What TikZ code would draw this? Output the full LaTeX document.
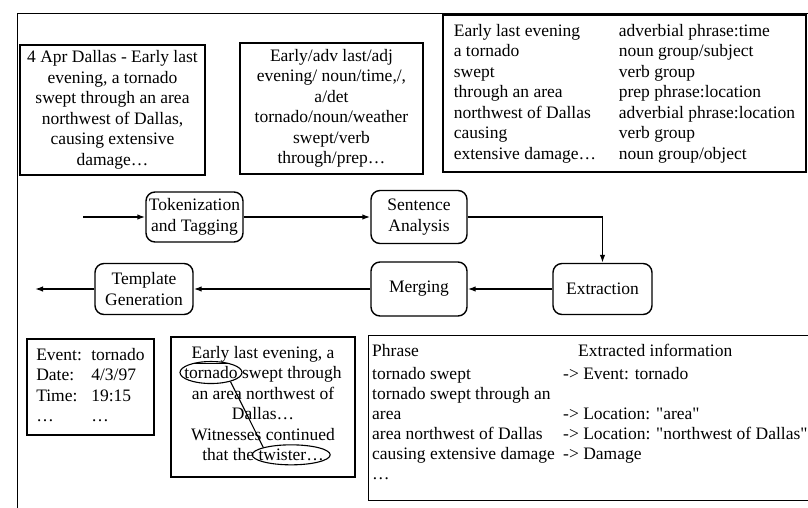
\documentclass[tikz,border=0pt]{standalone}
\usepackage{fontspec}
\setmainfont{Liberation Serif}
\usetikzlibrary{arrows.meta,shapes.geometric}
\begin{document}
\begin{tikzpicture}[x=1pt,y=-1pt,
  txt/.style={font=\fontsize{17.5}{20.5}\selectfont, inner sep=0pt},
  infobox/.style={draw, line width=1.1pt, inner sep=0pt},
  proc/.style={draw, line width=1.4pt, rounded corners=9pt, align=center,
    font=\fontsize{17.5}{20.5}\selectfont, inner sep=0pt},
  flow/.style={line width=1.4pt, -{Latex[length=8pt,width=5.5pt]}},
  ring/.style={draw, ellipse, line width=1.1pt, inner sep=0pt}]
\useasboundingbox (0,0) rectangle (808,507);
\clip (0,0) rectangle (808,507);
\fill[white] (0,0) rectangle (808,507);
% outer frame (right and bottom cut off)
\node[draw, line width=1.1pt, anchor=north west, minimum width=830, minimum height=530, inner sep=0pt] (frame) at (17,13) {};

% top information boxes
\node[infobox, txt, align=center, minimum width=185, minimum height=130] (src) at (112.5,110)
  {4 Apr Dallas - Early last\\ evening, a tornado\\ swept through an area\\ northwest of Dallas,\\ causing extensive\\ damage\ldots};
\node[infobox, txt, align=center, minimum width=183, minimum height=131] (tags) at (331.5,108.5)
  {Early/adv last/adj\\ evening/ noun/time,/,\\ a/det\\ tornado/noun/weather\\ swept/verb\\ through/prep\ldots};
\node[infobox, txt, minimum width=363, minimum height=157] (synt) at (624.5,93.5)
  {\begin{tabular}{@{}p{165pt}@{}l@{}}
   Early last evening & adverbial phrase:time\\
   a tornado & noun group/subject\\
   swept & verb group\\
   through an area & prep phrase:location\\
   northwest of Dallas & adverbial phrase:location\\
   causing & verb group\\
   extensive damage\ldots & noun group/object
   \end{tabular}};

% process chain
\node[proc, minimum width=97, minimum height=50] (tok) at (194.5,217) {Tokenization\\and Tagging};
\node[proc, minimum width=96, minimum height=53] (sent) at (419,217) {Sentence\\Analysis};
\node[proc, minimum width=99, minimum height=51] (extr) at (602.5,289) {Extraction};
\node[proc, minimum width=96, minimum height=54] (merg) at (419,289) {Merging};
\node[proc, minimum width=98, minimum height=51] (tmpl) at (144,289) {Template\\Generation};
\coordinate (in) at (83,217);
\coordinate (out) at (35,289);
\draw[flow] (in) -- (tok);
\draw[flow] (tok) -- (sent);
\draw[flow] (sent.east) -| (extr.north);
\draw[flow] (extr) -- (merg);
\draw[flow] (merg) -- (tmpl);
\draw[flow] (tmpl) -- (out);

% bottom boxes
\node[infobox, txt, minimum width=127, minimum height=96] (evt) at (90.5,387)
  {\begin{tabular}{@{}p{55pt}@{}l@{}}
   Event: & tornado\\
   Date: & 4/3/97\\
   Time: & 19:15\\
   \ldots & \ldots
   \end{tabular}};

\node[infobox, minimum width=184, minimum height=140] (coref) at (263,407) {};
\node[txt, anchor=base] (m1) at (263,358) {\underline{Early} last evening, a};
\node[txt, anchor=base] (m2) at (263,378.5) {\phantom{tornado} swept through};
\node[txt, anchor=base west] (tor) at (m2.base west) {tornado};
\node[txt, anchor=base] (m3) at (263,399) {an area northwest of};
\node[txt, anchor=base] (m4) at (263,419.5) {Dallas\ldots};
\node[txt, anchor=base] (m5) at (263,440) {Witnesses continued};
\node[txt, anchor=base] (m6) at (263,460.5) {that the \phantom{twister\ldots}};
\node[txt, anchor=base east] (tw) at (m6.base east) {twister\ldots};
\node[ring, minimum width=62, minimum height=22] (torE) at (tor.center) {};
\node[ring, minimum width=78, minimum height=20] (twE) at (tw.center) {};
\draw[line width=1.1pt] (torE.-25) -- (twE.165);

\node[infobox, anchor=north west, minimum width=470, minimum height=165] (phr) at (368,335) {};
\node[inner sep=0pt, anchor=north west, font=\fontsize{17.5}{20}\selectfont] (phrt) at (372,342)
  {\begin{tabular}{@{}p{191pt}@{}l@{}}
   Phrase & \hspace{15pt}Extracted information\\[3pt]
   tornado swept & -> Event: tornado\\
   tornado swept through an & \\
   area & -> Location: \textquotedbl area\textquotedbl\\
   area northwest of Dallas & -> Location: \textquotedbl northwest of Dallas\textquotedbl\\
   causing extensive damage & -> Damage\\
   \ldots &
   \end{tabular}};
\end{tikzpicture}
\end{document}
